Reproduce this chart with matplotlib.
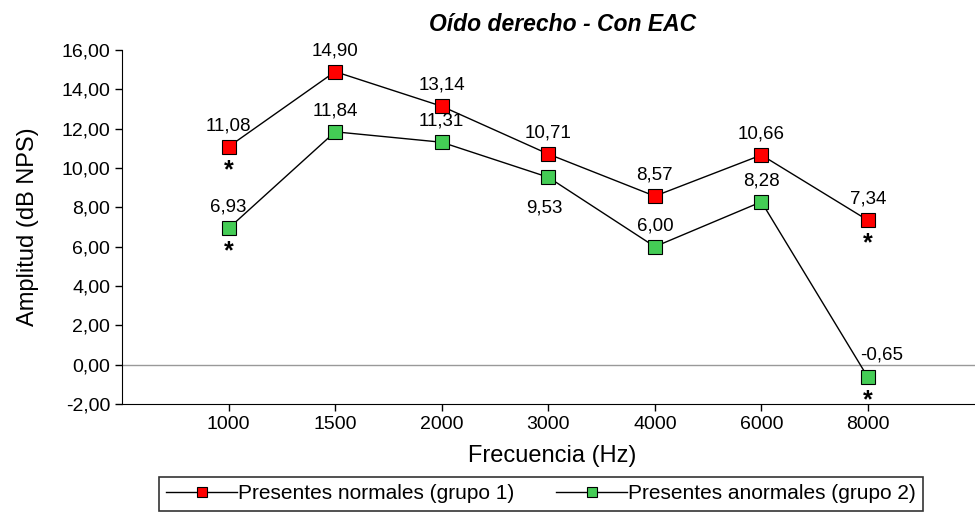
import matplotlib.pyplot as plt
import numpy as np

plt.rcParams['font.family'] = ['Liberation Sans', 'DejaVu Sans']

# datos
frecuencias = ['1000', '1500', '2000', '3000', '4000', '6000', '8000']
grupo1 = [11.08, 14.90, 13.14, 10.71, 8.57, 10.66, 7.34]
grupo2 = [6.93, 11.84, 11.31, 9.53, 6.00, 8.28, -0.65]
asteriscos = [0, 6]  # indices con diferencia significativa
yticks = np.arange(-2, 17, 2)

fig = plt.figure(figsize=(9.75, 5.14), dpi=100)
# el eje x llega hasta el borde derecho de la imagen
ax = fig.add_axes([122 / 975, 1 - 404 / 514, (982 - 122) / 975, (404 - 50) / 514])

x = np.arange(len(frecuencias))
ax.axhline(0, color='#999999', lw=1, zorder=1)
ax.plot(x, grupo1, color='black', lw=1, marker='s', ms=10, mfc='#ff0000', mec='black', mew=0.8,
        label='Presentes normales (grupo 1)', zorder=3)
ax.plot(x, grupo2, color='black', lw=1, marker='s', ms=10, mfc='#44cc55', mec='black', mew=0.8,
        label='Presentes anormales (grupo 2)', zorder=3)

def fmt(v):
    return f'{v:.2f}'.replace('.', ',')

fs = 13.5
for i, v in enumerate(grupo1):
    ax.annotate(fmt(v), (i, v), xytext=(0, 9), textcoords='offset points', ha='center', va='bottom', fontsize=fs)
for i, v in enumerate(grupo2):
    if i == 3:
        ax.annotate(fmt(v), (i, v), xytext=(-3, -16), textcoords='offset points', ha='center', va='top', fontsize=fs)
    elif i == 6:
        ax.annotate(fmt(v), (i, v), xytext=(10, 10), textcoords='offset points', ha='center', va='bottom', fontsize=fs)
    else:
        ax.annotate(fmt(v), (i, v), xytext=(0, 9), textcoords='offset points', ha='center', va='bottom', fontsize=fs)

for i in asteriscos:
    for v in (grupo1[i], grupo2[i]):
        ax.annotate('*', (i, v), xytext=(0, -8), textcoords='offset points', ha='center', va='top',
                    fontsize=18, fontweight='bold')

ax.set_xlim(-1, 7.07)
ax.set_ylim(-2, 16)
ax.set_xticks(x)
ax.set_xticklabels(frecuencias, fontsize=14)
ax.set_yticks(yticks)
ax.set_yticklabels([fmt(t) for t in yticks], fontsize=14)
ax.tick_params(direction='out', length=5, width=1)
ax.spines['top'].set_visible(False)
ax.spines['right'].set_visible(False)
ax.set_xlabel('Frecuencia (Hz)', fontsize=17, labelpad=9)
ax.set_ylabel('Amplitud (dB NPS)', fontsize=17, labelpad=16)
ax.set_title('Oído derecho - Con EAC', fontsize=16.5, fontstyle='italic', fontweight='bold',
             x=(563 - 122) / 860, pad=14)

leg = fig.legend(loc='upper center', bbox_to_anchor=(541 / 975, 1 - 477 / 514), ncol=2, fontsize=15,
                 frameon=True, fancybox=False, edgecolor='black', markerscale=0.7, handlelength=3.4,
                 handletextpad=0.05, columnspacing=2.0, borderpad=0.35, borderaxespad=0)
leg.get_frame().set_linewidth(1.2)

fig.savefig('out.png', dpi=100)
